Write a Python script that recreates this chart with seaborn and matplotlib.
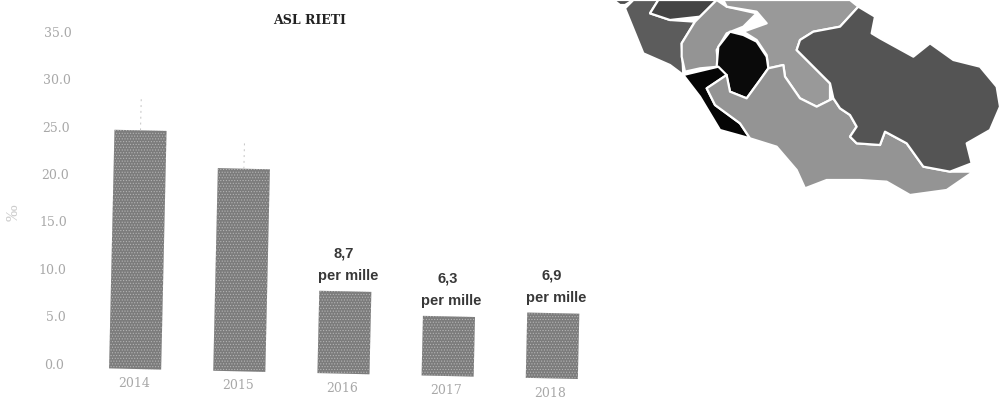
import matplotlib
matplotlib.use("Agg")
import matplotlib.pyplot as plt
from matplotlib.patches import Polygon
from matplotlib.transforms import Affine2D
import pandas as pd
import seaborn as sns

years = ["2014", "2015", "2016", "2017", "2018"]
rates = [25.2, 21.4, 8.7, 6.3, 6.9]
upper = [28.8, 24.2]
rate_labels = ["", "", "8,7", "6,3", "6,9"]
y_ticks = [0, 5, 10, 15, 20, 25, 30, 35]

# map regions, zoom crop coords (x/3+600, y/3)
map_regions = [
    (0.30, [(40, 0), (100, 0), (75, 15), (60, 15)]),
    (0.36, [(75, 25), (130, 160), (210, 195), (250, 225), (245, 130), (285, 65), (210, 60),
            (150, 40), (175, 0), (100, 0)]),
    (0.27, [(175, 0), (350, 0), (300, 50), (210, 60), (150, 40)]),
    (0.58, [(245, 130), (285, 65), (350, 0), (380, 20), (470, 40), (430, 80), (380, 100),
            (350, 150), (355, 200), (300, 205), (255, 215), (245, 170)]),
    (0.60, [(370, 0), (750, 0), (775, 20), (720, 80), (640, 95), (600, 120), (590, 150),
            (650, 210), (690, 250), (690, 300), (650, 320), (600, 295), (555, 230), (550, 195),
            (505, 205), (500, 165), (470, 120), (430, 95), (500, 70), (470, 35), (380, 20)]),
    (0.04, [(390, 95), (430, 105), (470, 125), (500, 170), (505, 205), (480, 240), (440, 295),
            (390, 275), (380, 230), (350, 200), (355, 140)]),
    (0.02, [(250, 225), (355, 200), (380, 225), (320, 265), (345, 315), (420, 370), (450, 415),
            (360, 390), (300, 290)]),
    (0.58, [(320, 265), (380, 225), (390, 275), (440, 295), (480, 240), (505, 205), (550, 195),
            (555, 230), (600, 295), (650, 320), (700, 295), (720, 325), (750, 345), (770, 380),
            (750, 410), (770, 430), (840, 435), (855, 395), (920, 430), (970, 500), (1050, 515),
            (1120, 515), (1040, 570), (930, 585), (860, 545), (780, 540), (680, 540), (615, 565),
            (590, 510), (530, 440), (450, 415), (420, 370), (345, 315)]),
    (0.33, [(775, 20), (825, 50), (815, 100), (840, 115), (940, 170), (990, 130), (1060, 180),
            (1140, 200), (1190, 260), (1200, 320), (1170, 390), (1100, 430), (1110, 470),
            (1115, 490), (1050, 515), (970, 500), (920, 430), (855, 395), (840, 435), (770, 430),
            (750, 410), (770, 380), (750, 345), (720, 325), (700, 295), (690, 250), (650, 210),
            (590, 150), (600, 120), (640, 95), (720, 80)]),
]

W, H = 1001, 405
sns.set_theme(style="white")
plt.rcParams["hatch.linewidth"] = 0.5
fig = plt.figure(figsize=(W / 100, H / 100), dpi=100)
ax = fig.add_axes([83 / W, 36 / H, 521 / W, 341 / H])

df = pd.DataFrame({"year": years, "rate": rates})
sns.barplot(data=df, x="year", y="rate", color="#7c7c7c", saturation=1, width=0.5, ax=ax)
ax.set_ylim(0, 36)
ax.set_xlim(-0.5, 4.5)
ax.set_xlabel("")
ax.set_ylabel("")
ax.set_xticks([])
ax.set_yticks([])
sns.despine(ax=ax, left=True, bottom=True)

# the page was scanned slightly crooked
tilt = ax.transData + Affine2D().rotate_deg_around(136, 36, -1.3)
for p in ax.patches:
    p.set_transform(tilt)
    p.set_clip_on(False)
    p.set_edgecolor("#b4b4b4")
    p.set_linewidth(0)
    p.set_hatch("......")

ax.vlines([0, 1], rates[:2], upper, color="#c4c4c4", lw=0.7, ls=(0, (2, 4)), transform=tilt, clip_on=False)

tick_col = "#a8a8a8"
for v in y_ticks:
    ax.text(-0.68, v + 0.25, f"{v:.1f}", transform=tilt, ha="right", va="center", color=tick_col,
            family="DejaVu Serif", fontsize=9, clip_on=False)
for i, yr in enumerate(years):
    ax.text(i - 0.01, -1.55, yr, transform=tilt, ha="center", va="center", color=tick_col,
            family="DejaVu Serif", fontsize=9, clip_on=False)

for i, lab in enumerate(rate_labels):
    if lab:
        ax.text(i - 0.02, rates[i] + 4.0, lab, transform=tilt, ha="center", va="center", color="#383838",
                family="Liberation Sans", fontweight="bold", fontsize=10.5, clip_on=False)
        ax.text(i + 0.02, rates[i] + 1.65, "per mille", transform=tilt, ha="center", va="center",
                color="#383838", family="Liberation Sans", fontweight="bold", fontsize=10.5, clip_on=False)

fig.text(310 / W, 1 - 21 / H, "ASL RIETI", ha="center", va="center", color="#222222",
         family="DejaVu Serif", fontweight="bold", fontsize=9)
fig.text(14 / W, 1 - 213 / H, "‰", rotation=90, ha="center", va="center", color="#cccccc",
         family="Liberation Serif", fontsize=12)

# map overlay in pixel coords
m = fig.add_axes([0, 0, 1, 1], zorder=3)
m.set_xlim(0, W)
m.set_ylim(H, 0)
m.axis("off")
for grey, pts in map_regions:
    m.add_patch(Polygon([(x / 3 + 600, y / 3) for x, y in pts], closed=True,
                        facecolor=str(grey), edgecolor="white", lw=1.6, joinstyle="round"))

fig.savefig("out.png", dpi=100)
